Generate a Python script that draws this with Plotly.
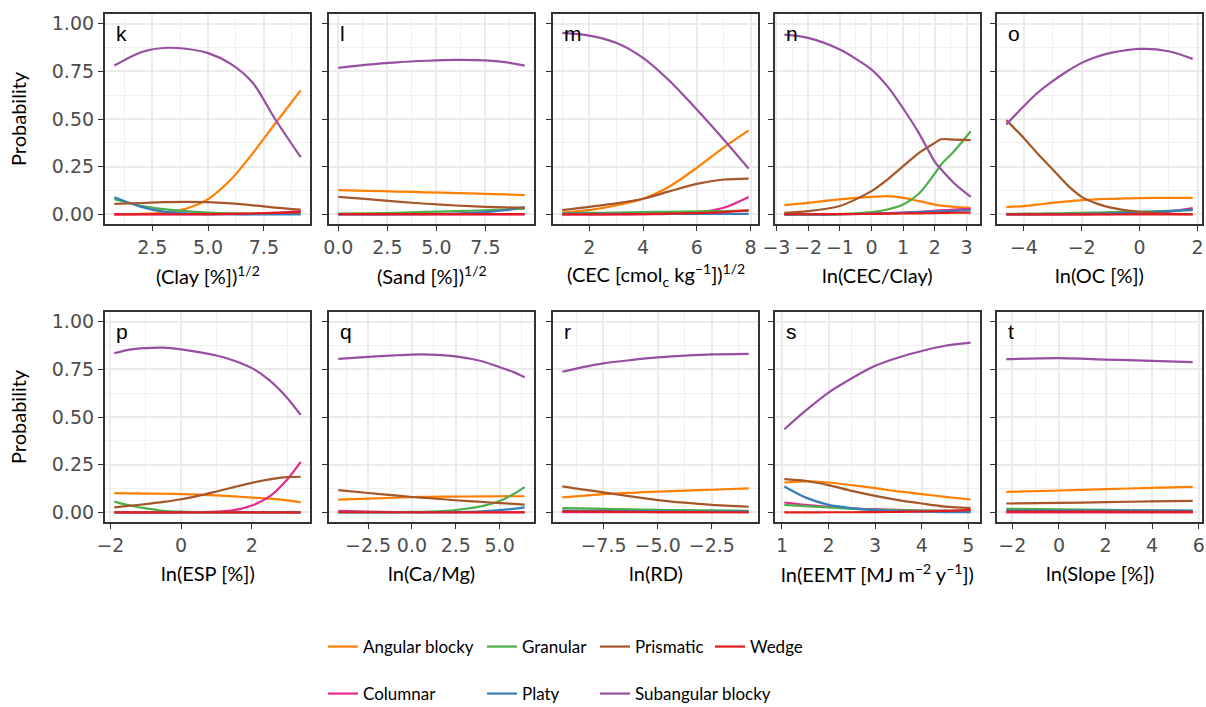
import plotly.graph_objects as go

W, H = 1206, 707

SERIES = ["Angular blocky", "Columnar", "Granular", "Platy", "Prismatic", "Subangular blocky", "Wedge"]
COLORS = {"Angular blocky": "#FF7F00", "Columnar": "#E7298A", "Granular": "#4DAF4A",
          "Platy": "#377EB8", "Prismatic": "#A65628", "Subangular blocky": "#984EA3",
          "Wedge": "#E41A1C"}

PANEL_LETTERS = ["k", "l", "m", "n", "o", "p", "q", "r", "s", "t"]
X_TITLES = ["(Clay [%])<sup>1/2</sup>", "(Sand [%])<sup>1/2</sup>",
            "(CEC [cmol<sub>c</sub> kg<sup>−1</sup>])<sup>1/2</sup>", "ln(CEC/Clay)",
            "ln(OC [%])", "ln(ESP [%])", "ln(Ca/Mg)", "ln(RD)",
            "ln(EEMT [MJ m<sup>−2</sup> y<sup>−1</sup>])", "ln(Slope [%])"]
X_DTICK = [2.5, 2.5, 2, 1, 2, 2, 2.5, 2.5, 1, 2]
X_FMT = [".1f", ".1f", "", "", "", "", ".1f", ".1f", "", ""]

# ---- panel k: (Clay [%])^1/2
k_x = [0.8, 2.0, 3.0, 4.0, 5.0, 6.0, 7.0, 8.0, 9.15]
k_angular = [0.0, 0.003, 0.01, 0.03, 0.08, 0.18, 0.32, 0.475, 0.65]
k_columnar = [0, 0, 0, 0, 0, 0.001, 0.003, 0.008, 0.018]
k_granular = [0.08, 0.045, 0.028, 0.017, 0.01, 0.006, 0.005, 0.005, 0.005]
k_platy = [0.09, 0.04, 0.015, 0.006, 0.002, 0.001, 0.0, 0.0, 0.0]
k_prismatic = [0.055, 0.06, 0.065, 0.066, 0.065, 0.058, 0.048, 0.036, 0.025]
k_subangular = [0.78, 0.85, 0.872, 0.868, 0.845, 0.79, 0.69, 0.50, 0.30]
k_wedge = [0.001, 0.001, 0.001, 0.001, 0.002, 0.003, 0.005, 0.008, 0.012]

# ---- panel l: (Sand [%])^1/2
l_x = [0, 1.5, 3, 4.5, 6, 7.5, 8.5, 9.5]
l_angular = [0.127, 0.124, 0.12, 0.116, 0.112, 0.108, 0.105, 0.101]
l_columnar = [0.0] * 8
l_granular = [0.004, 0.006, 0.009, 0.013, 0.017, 0.022, 0.026, 0.03]
l_platy = [0.0, 0.0, 0.001, 0.002, 0.005, 0.012, 0.022, 0.038]
l_prismatic = [0.092, 0.08, 0.067, 0.056, 0.047, 0.04, 0.037, 0.034]
l_subangular = [0.768, 0.785, 0.797, 0.805, 0.81, 0.807, 0.798, 0.78]
l_wedge = [0.002] * 8

# ---- panel m: (CEC)^1/2
m_x = [1, 2, 3, 4, 5, 6, 7, 7.93]
m_angular = [0.01, 0.023, 0.047, 0.082, 0.148, 0.244, 0.35, 0.44]
m_columnar = [0.0, 0.0, 0.0, 0.001, 0.003, 0.01, 0.035, 0.092]
m_granular = [0.006, 0.008, 0.01, 0.012, 0.014, 0.016, 0.018, 0.02]
m_platy = [0.003] * 8
m_prismatic = [0.023, 0.04, 0.058, 0.082, 0.122, 0.16, 0.183, 0.188]
m_subangular = [0.951, 0.937, 0.899, 0.82, 0.698, 0.55, 0.393, 0.24]
m_wedge = [0.0, 0.0, 0.001, 0.002, 0.004, 0.007, 0.012, 0.021]

# ---- panel n: ln(CEC/Clay)
n_x = [-2.75, -2, -1, 0, 0.5, 1, 1.5, 2, 2.2, 2.6, 3.13]
n_angular = [0.049, 0.061, 0.079, 0.092, 0.096, 0.087, 0.07, 0.052, 0.046, 0.04, 0.035]
n_columnar = [0, 0, 0.001, 0.004, 0.007, 0.01, 0.014, 0.019, 0.021, 0.025, 0.03]
n_granular = [0, 0, 0.002, 0.012, 0.026, 0.052, 0.11, 0.215, 0.262, 0.33, 0.436]
n_platy = [0.0, 0.0, 0.001, 0.004, 0.006, 0.009, 0.012, 0.015, 0.017, 0.019, 0.023]
n_prismatic = [0.009, 0.017, 0.044, 0.122, 0.183, 0.253, 0.323, 0.375, 0.394, 0.392, 0.389]
n_subangular = [0.942, 0.925, 0.864, 0.759, 0.672, 0.555, 0.425, 0.275, 0.235, 0.165, 0.092]
n_wedge = [0.001, 0.001, 0.002, 0.003, 0.004, 0.005, 0.006, 0.007, 0.008, 0.009, 0.01]

# ---- panel o: ln(OC [%])
o_x = [-4.6, -4, -3.5, -3, -2.5, -2, -1.5, -1, 0, 1, 1.83]
o_angular = [0.038, 0.044, 0.052, 0.061, 0.068, 0.075, 0.079, 0.082, 0.086, 0.087, 0.087]
o_columnar = [0, 0, 0, 0, 0, 0, 0.001, 0.002, 0.005, 0.015, 0.033]
o_granular = [0.003, 0.004, 0.005, 0.006, 0.007, 0.009, 0.01, 0.012, 0.015, 0.019, 0.022]
o_platy = [0.0, 0.0, 0.001, 0.001, 0.002, 0.003, 0.004, 0.006, 0.01, 0.017, 0.025]
o_prismatic = [0.494, 0.401, 0.315, 0.236, 0.155, 0.092, 0.058, 0.036, 0.014, 0.004, 0.001]
o_subangular = [0.471, 0.567, 0.64, 0.698, 0.75, 0.794, 0.825, 0.846, 0.867, 0.855, 0.815]
o_wedge = [0.0] * 11

# ---- panel p: ln(ESP [%])
p_x = [-1.89, -1.5, -1, -0.5, 0, 0.5, 1, 1.5, 2, 2.5, 3, 3.38]
p_angular = [0.101, 0.1, 0.099, 0.098, 0.096, 0.093, 0.089, 0.084, 0.078, 0.072, 0.063, 0.053]
p_columnar = [0, 0, 0, 0, 0.001, 0.002, 0.004, 0.012, 0.036, 0.084, 0.173, 0.265]
p_granular = [0.057, 0.039, 0.021, 0.009, 0.004, 0.002, 0.001, 0.001, 0.0, 0.0, 0.0, 0.0]
p_platy = [0.0] * 12
p_prismatic = [0.027, 0.034, 0.044, 0.055, 0.069, 0.088, 0.11, 0.133, 0.155, 0.173, 0.185, 0.187]
p_subangular = [0.834, 0.852, 0.861, 0.863, 0.854, 0.84, 0.822, 0.795, 0.756, 0.692, 0.60, 0.511]
p_wedge = [0.0] * 12

# ---- panel q: ln(Ca/Mg)
q_x = [-4.2, -2.5, -1, 0, 1, 2.5, 4, 5, 5.8, 6.43]
q_angular = [0.067, 0.072, 0.077, 0.08, 0.082, 0.083, 0.084, 0.085, 0.085, 0.085]
q_columnar = [0.008, 0.004, 0.002, 0.001, 0.0, 0, 0, 0, 0, 0]
q_granular = [0.002, 0.002, 0.002, 0.003, 0.005, 0.013, 0.033, 0.06, 0.097, 0.133]
q_platy = [0, 0, 0, 0, 0.001, 0.002, 0.006, 0.012, 0.019, 0.027]
q_prismatic = [0.117, 0.102, 0.089, 0.081, 0.075, 0.064, 0.055, 0.049, 0.045, 0.041]
q_subangular = [0.804, 0.815, 0.823, 0.827, 0.827, 0.818, 0.792, 0.761, 0.735, 0.708]
q_wedge = [0.001] * 10

# ---- panel r: ln(RD)
r_x = [-9.4, -8.5, -7.5, -6.25, -5, -3.75, -2.5, -0.8]
r_angular = [0.079, 0.087, 0.096, 0.103, 0.109, 0.114, 0.119, 0.126]
r_columnar = [0.001] * 8
r_granular = [0.023, 0.021, 0.019, 0.016, 0.014, 0.012, 0.011, 0.009]
r_platy = [0.01, 0.009, 0.008, 0.007, 0.006, 0.005, 0.005, 0.004]
r_prismatic = [0.137, 0.121, 0.105, 0.084, 0.065, 0.051, 0.04, 0.03]
r_subangular = [0.737, 0.76, 0.781, 0.798, 0.812, 0.821, 0.828, 0.831]
r_wedge = [0.006, 0.005, 0.004, 0.003, 0.002, 0.002, 0.001, 0.001]

# ---- panel s: ln(EEMT)
s_x = [1.05, 1.5, 2, 2.5, 3, 3.5, 4, 4.5, 5.05]
s_angular = [0.157, 0.163, 0.157, 0.143, 0.127, 0.11, 0.096, 0.082, 0.068]
s_columnar = [0.052, 0.04, 0.03, 0.022, 0.017, 0.013, 0.01, 0.008, 0.006]
s_granular = [0.04, 0.033, 0.026, 0.019, 0.014, 0.011, 0.01, 0.009, 0.009]
s_platy = [0.136, 0.079, 0.04, 0.023, 0.012, 0.007, 0.004, 0.002, 0.001]
s_prismatic = [0.175, 0.166, 0.143, 0.113, 0.087, 0.065, 0.047, 0.031, 0.023]
s_subangular = [0.436, 0.532, 0.628, 0.703, 0.768, 0.812, 0.846, 0.873, 0.89]
s_wedge = [0.0, 0.0, 0.001, 0.001, 0.002, 0.003, 0.005, 0.008, 0.014]

# ---- panel t: ln(Slope [%])
t_x = [-2.26, 0, 2, 4, 5.74]
t_angular = [0.108, 0.115, 0.122, 0.129, 0.134]
t_columnar = [0.0] * 5
t_granular = [0.019, 0.016, 0.013, 0.011, 0.009]
t_platy = [0.01, 0.01, 0.01, 0.01, 0.01]
t_prismatic = [0.047, 0.05, 0.054, 0.058, 0.061]
t_subangular = [0.803, 0.808, 0.801, 0.794, 0.787]
t_wedge = [0.005, 0.004, 0.004, 0.003, 0.003]

PANELS = [
    (k_x, [k_angular, k_columnar, k_granular, k_platy, k_prismatic, k_subangular, k_wedge]),
    (l_x, [l_angular, l_columnar, l_granular, l_platy, l_prismatic, l_subangular, l_wedge]),
    (m_x, [m_angular, m_columnar, m_granular, m_platy, m_prismatic, m_subangular, m_wedge]),
    (n_x, [n_angular, n_columnar, n_granular, n_platy, n_prismatic, n_subangular, n_wedge]),
    (o_x, [o_angular, o_columnar, o_granular, o_platy, o_prismatic, o_subangular, o_wedge]),
    (p_x, [p_angular, p_columnar, p_granular, p_platy, p_prismatic, p_subangular, p_wedge]),
    (q_x, [q_angular, q_columnar, q_granular, q_platy, q_prismatic, q_subangular, q_wedge]),
    (r_x, [r_angular, r_columnar, r_granular, r_platy, r_prismatic, r_subangular, r_wedge]),
    (s_x, [s_angular, s_columnar, s_granular, s_platy, s_prismatic, s_subangular, s_wedge]),
    (t_x, [t_angular, t_columnar, t_granular, t_platy, t_prismatic, t_subangular, t_wedge]),
]

TICK_FONT = dict(family="DejaVu Sans, sans-serif", size=19, color="#4D4D4D")
TITLE_FONT = dict(family="Lato, sans-serif", size=20, color="#000000")
LEGEND_FONT = dict(family="Lato, sans-serif", size=17, color="#000000")
BORDER = "#333333"
GRID = "#EBEBEB"

PX0 = [105, 329, 553, 775, 997]
PW = 205
PY = [(14, 224), (312, 522)]

fig = go.Figure()
layout = dict(width=W, height=H, margin=dict(l=0, r=0, t=0, b=0, autoexpand=False),
              paper_bgcolor="white", plot_bgcolor="white", annotations=[])

# legend positions (column x px, row y px)
LEG_POS = {"Angular blocky": (323, 647), "Columnar": (323, 694), "Granular": (482, 647),
           "Platy": (482, 694), "Prismatic": (595, 647), "Subangular blocky": (595, 694),
           "Wedge": (710, 647)}

for i, (xs, ys_list) in enumerate(PANELS):
    row, col = divmod(i, 5)
    ax = "" if i == 0 else str(i + 1)
    x0 = PX0[col]
    y0, y1 = PY[row]
    xmin, xmax = min(xs), max(xs)
    pad = 0.05 * (xmax - xmin)
    dt = X_DTICK[i]
    layout["xaxis" + ax] = dict(
        domain=[x0 / W, (x0 + PW) / W], anchor="y" + ax, automargin=False,
        range=[xmin - pad, xmax + pad], tick0=0, dtick=dt, tickformat=X_FMT[i],
        showgrid=True, gridcolor=GRID, gridwidth=1.6,
        minor=dict(tick0=0, dtick=dt / 2, showgrid=True, gridcolor="#F0F0F0", gridwidth=0.9),
        showline=True, mirror=True, linecolor=BORDER, linewidth=2.2,
        ticks="outside", ticklen=5, tickwidth=1.3, tickcolor=BORDER,
        tickfont=TICK_FONT, zeroline=False, fixedrange=True)
    layout["yaxis" + ax] = dict(
        domain=[1 - y1 / H, 1 - y0 / H], anchor="x" + ax, automargin=False,
        range=[-0.05, 1.05], tick0=0, dtick=0.25, tickformat=".2f",
        showticklabels=(col == 0),
        showgrid=True, gridcolor=GRID, gridwidth=1.6,
        minor=dict(tick0=0, dtick=0.125, showgrid=True, gridcolor="#F0F0F0", gridwidth=0.9),
        showline=True, mirror=True, linecolor=BORDER, linewidth=2.2,
        ticks="outside", ticklen=5, tickwidth=1.3, tickcolor=BORDER,
        tickfont=TICK_FONT, zeroline=False, fixedrange=True)

    for s_idx, (name, ys) in enumerate(zip(SERIES, ys_list)):
        tr = dict(x=xs, y=ys, mode="lines", name=name,
                  line=dict(color=COLORS[name], width=2.2, shape="spline", smoothing=0.8),
                  xaxis="x" + ax, yaxis="y" + ax, showlegend=False, hoverinfo="skip")
        if i == 0:
            tr["showlegend"] = True
            tr["legend"] = "legend" if s_idx == 0 else "legend" + str(s_idx + 1)
        fig.add_trace(go.Scatter(**tr))

    # panel letter
    layout["annotations"].append(dict(
        text=PANEL_LETTERS[i], x=(x0 + 9) / W, y=1 - (y0 + 6) / H, xref="paper", yref="paper",
        xanchor="left", yanchor="top", showarrow=False,
        font=dict(family="Liberation Sans, Arial, sans-serif", size=21, color="#000000")))
    # x title
    layout["annotations"].append(dict(
        text=X_TITLES[i], x=(x0 + PW / 2) / W, y=1 - (y1 + 51) / H, xref="paper", yref="paper",
        xanchor="center", yanchor="middle", showarrow=False, font=TITLE_FONT))
    if col == 0:
        layout["annotations"].append(dict(
            text="Probability", x=18 / W, y=1 - ((y0 + y1) / 2) / H, xref="paper", yref="paper",
            xanchor="center", yanchor="middle", showarrow=False, textangle=-90, font=TITLE_FONT))

for s_idx, name in enumerate(SERIES):
    key = "legend" if s_idx == 0 else "legend" + str(s_idx + 1)
    lx, ly = LEG_POS[name]
    layout[key] = dict(x=lx / W, y=1 - ly / H, xanchor="left", yanchor="middle",
                       orientation="v", bgcolor="rgba(0,0,0,0)", borderwidth=0,
                       font=LEGEND_FONT, itemwidth=30)

fig.update_layout(**layout)
fig.write_html("out.html")
